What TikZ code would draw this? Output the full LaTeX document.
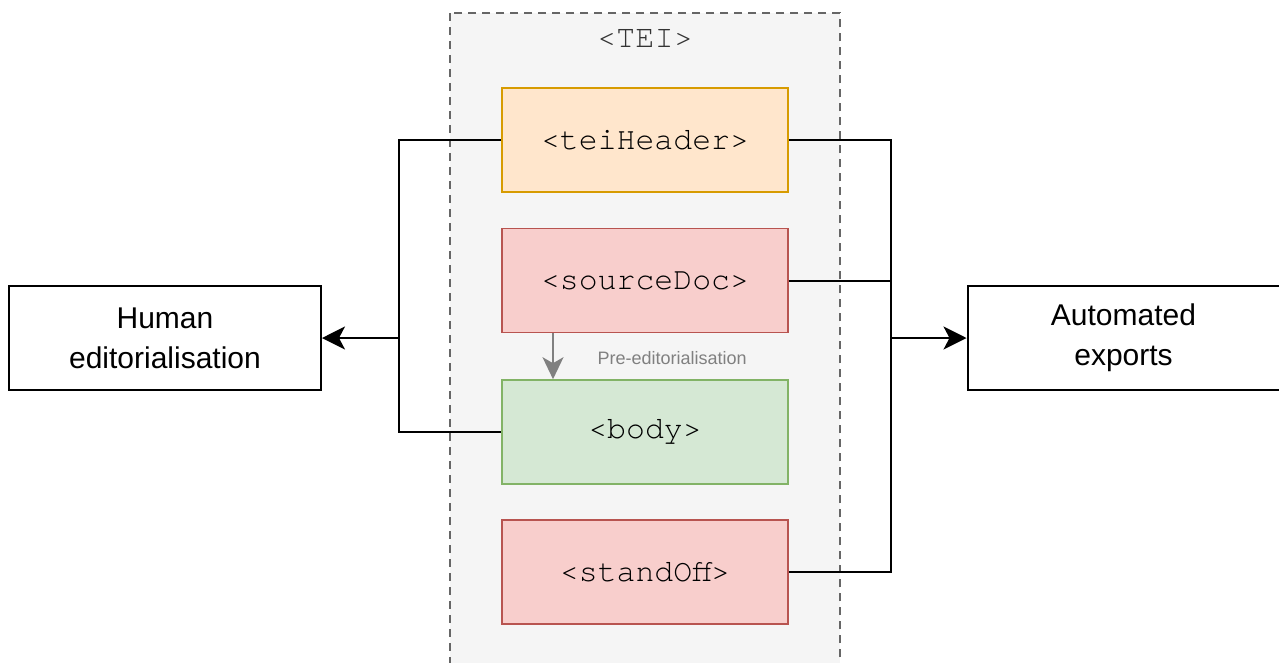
\documentclass[tikz,border=0pt]{standalone}
\usepackage{fontspec}
\setmainfont{Liberation Sans}
\newfontfamily\codefont{texgyrecursor-regular.otf}
\usetikzlibrary{arrows.meta}
\definecolor{teiFill}{HTML}{F5F5F5}
\definecolor{teiDash}{HTML}{666666}
\definecolor{hdrFill}{HTML}{FFE6CC}
\definecolor{hdrLine}{HTML}{D79B00}
\definecolor{redFill}{HTML}{F8CECC}
\definecolor{redLine}{HTML}{B85450}
\definecolor{grnFill}{HTML}{D5E8D4}
\definecolor{grnLine}{HTML}{82B366}
\definecolor{noteGray}{HTML}{808080}
\tikzset{
  elem/.style={draw, line width=1.6pt, minimum width=286pt, minimum height=104pt,
    inner sep=0pt, font=\codefont\fontsize{31.5}{34}\selectfont},
  actor/.style={draw=black, fill=white, line width=2pt, minimum width=312pt,
    minimum height=104pt, inner sep=0pt, align=center,
    font=\fontsize{30}{40}\selectfont},
  link/.style={line width=2pt, black},
  flow/.style={link, -{Stealth[length=23pt, width=23pt, inset=6pt]}},
}
\begin{document}
\begin{tikzpicture}[x=1pt, y=-1pt]
\useasboundingbox (0,0) rectangle (1279,662);
\clip (0,0) rectangle (1279,662);

% TEI container
\draw[teiDash, fill=teiFill, line width=2pt, dash pattern=on 8pt off 6pt]
  (450,13) rectangle (840,700);
\node[font=\codefont\fontsize{32}{34}\selectfont, text=black!80] (tei) at (645,38) {<TEI>};

% TEI elements
\node[elem, fill=hdrFill, draw=hdrLine] (hdr) at (645,140) {<teiHeader>};
\node[elem, fill=redFill, draw=redLine] (src) at (645,280.5) {<sourceDoc>};
\node[elem, fill=grnFill, draw=grnLine] (body) at (645,432) {<body>};
\node[elem, fill=redFill, draw=redLine] (so) at (645,572) {<standOff>};

% external processes
\node[actor] (human) at (165,338) {Human\\editorialisation};
\node[actor] (auto) at (1123.5,338) {Automated\\exports};

% junction points
\coordinate (lj) at (399,338);
\coordinate (rj) at (891,338);

% editorial side
\draw[link] (hdr.west) -| (lj) |- (body.west);
\draw[flow] (lj) -- (human.east);

% export side
\draw[link] (hdr.east) -| (rj) |- (so.east);
\draw[link] (src.east) -- (src.east -| rj);
\draw[flow] (rj) -- (auto.west);

% pre-editorialisation step
\coordinate (ps) at (553,332);
\coordinate (pe) at (553,380);
\draw[noteGray, line width=2pt, -{Stealth[length=22pt, width=21pt, inset=6pt]}]
  (src.south -| ps) -- (body.north -| pe);
\node[text=noteGray, font=\fontsize{18}{20}\selectfont, anchor=west] (pre) at (594,358) {Pre-editorialisation};
\end{tikzpicture}
\end{document}
